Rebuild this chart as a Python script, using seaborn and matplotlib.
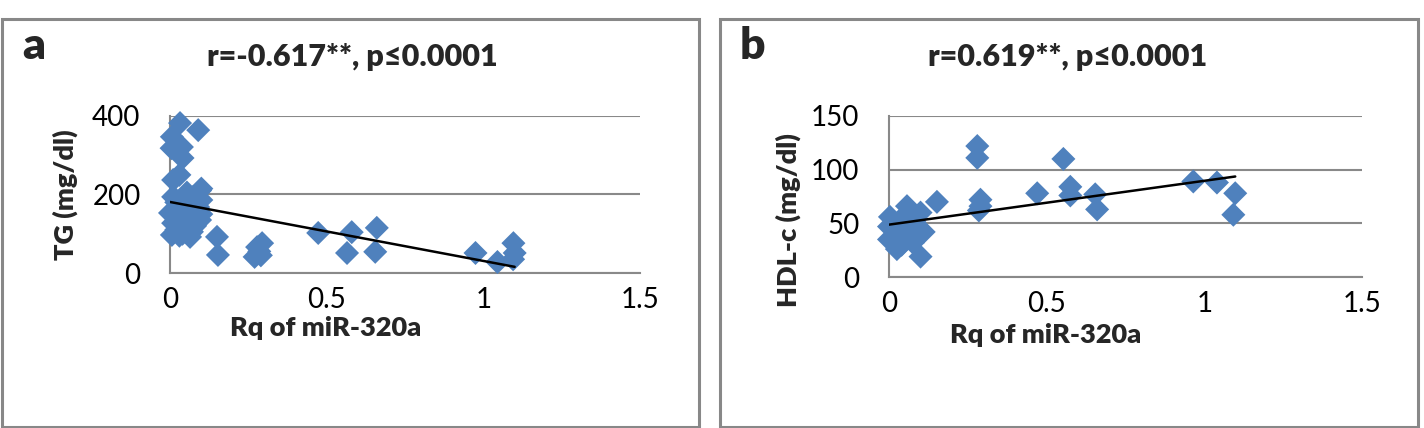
import numpy as np
import pandas as pd
import matplotlib
matplotlib.use('Agg')
import matplotlib.pyplot as plt
import seaborn as sns
from matplotlib.patches import Rectangle

# panel a: TG against Rq of miR-320a
rq_a = [0.032, 0.09, 0.006, 0.005, 0.038, 0.04, 0.01, 0.03, 0.096, 0.054,
        0.01, 0.074, 0.10, 0.0, 0.03, 0.09, 0.01, 0.054, 0.096, 0.006,
        0.064, 0.15, 0.153, 0.07, 0.08, 0.02, 0.045, 0.10,
        0.02, 0.05, 0.08, 0.03, 0.10, 0.06, 0.04, 0.07,
        0.278, 0.27, 0.294, 0.29, 0.285,
        0.473, 0.58, 0.565, 0.66, 0.655, 0.975, 1.045, 1.096, 1.10, 1.095]
tg = [382, 364, 347, 318, 321, 293, 237, 250, 210, 205,
      194, 194, 186, 153, 160, 168, 127, 127, 135, 97,
      92, 92, 46, 105, 150, 180, 175, 215,
      110, 140, 120, 95, 150, 160, 100, 130,
      66, 41, 76, 45, 55,
      102, 104, 51, 115, 54, 51, 28, 76, 51, 35]

# panel b: HDL-c against Rq of miR-320a
rq_b = [0.28, 0.28, 0.29, 0.29, 0.285, 0.152, 0.057, 0.003, 0.045, 0.10,
        0.0, 0.035, 0.09, 0.0, 0.025, 0.076, 0.10, 0.11, 0.02, 0.06,
        0.08, 0.04, 0.05, 0.02,
        0.47, 0.553, 0.575, 0.575, 0.654, 0.66, 0.965, 1.04, 1.098, 1.092]
hdl = [122, 111, 72, 66, 62, 70, 66, 56, 56, 60,
       47, 44, 47, 35, 26, 32, 19, 42, 38, 40,
       52, 30, 35, 45,
       78, 110, 84, 76, 77, 63, 89, 88, 78, 58]

x_ticks = [0, 0.5, 1, 1.5]
x_ticklabels = ['0', '0.5', '1', '1.5']
tg_ticks = [0, 200, 400]
hdl_ticks = [0, 50, 100, 150]

titles = ['r=-0.617**, p\u22640.0001', 'r=0.619**, p\u22640.0001']
letters = ['a', 'b']

sns.set_theme(style='white')
plt.rcParams['font.family'] = ['Lato', 'DejaVu Sans']

blue = '#4F81BD'
gray = '#898989'
W, H = 1424, 428

fig = plt.figure(figsize=(14.24, 4.28), dpi=100)


def px_box(l, t, r, b):
    return [l / W, 1 - b / H, (r - l) / W, (b - t) / H]


def draw_panel(box, x, y, yticks, ylabel, xlab_pos, ylab_pos):
    ax = fig.add_axes(box)
    df = pd.DataFrame({'x': x, 'y': y})
    sns.scatterplot(data=df, x='x', y='y', ax=ax, marker='D', s=150,
                    color=blue, edgecolor='none', linewidth=0,
                    clip_on=False, zorder=3)
    sns.regplot(data=df, x='x', y='y', ax=ax, scatter=False, ci=None,
                truncate=True, line_kws=dict(color='black', lw=1.8, zorder=4))
    ax.set_xlim(0, 1.5)
    ax.set_ylim(yticks[0], yticks[-1])
    ax.set_xticks(x_ticks)
    ax.set_xticklabels(x_ticklabels)
    ax.set_yticks(yticks)
    ax.yaxis.grid(True, color=gray, lw=1.5)
    ax.set_axisbelow(True)
    for s in ['top', 'right']:
        ax.spines[s].set_visible(False)
    for s in ['left', 'bottom']:
        ax.spines[s].set_color(gray)
        ax.spines[s].set_linewidth(1.5)
    ax.tick_params(axis='both', direction='out', length=7.2, width=1.5,
                   color=gray, labelsize=20, labelcolor='black')
    ax.tick_params(axis='y', pad=14)
    ax.tick_params(axis='x', pad=3)
    ax.set_xlabel('Rq of miR-320a', fontsize=19.5, fontweight='heavy', va='center')
    ax.set_ylabel(ylabel, fontsize=19.5, fontweight='heavy', va='center')
    ax.xaxis.set_label_coords(*xlab_pos)
    ax.yaxis.set_label_coords(*ylab_pos)
    return ax


draw_panel(px_box(170, 116, 640, 273), rq_a, tg, tg_ticks, 'TG (mg/dl)',
           (0.332, -0.35), (-0.222, 0.497))
draw_panel(px_box(889, 116, 1362, 277), rq_b, hdl, hdl_ticks, 'HDL-c (mg/dl)',
           (0.332, -0.36), (-0.212, 0.354))

# panel frames
for l, r in [(2, 699), (720, 1418)]:
    fig.add_artist(Rectangle((l / W, 1 / H), (r - l) / W, 408 / H,
                             transform=fig.transFigure, fill=False,
                             ec='#888888', lw=2.2))

for cx, lx, t, let in zip([352, 1068], [22, 740], titles, letters):
    fig.text(cx / W, 1 - 57 / H, t, ha='center', va='center',
             fontsize=22, fontweight='heavy')
    fig.text(lx / W, 1 - 46 / H, let, ha='left', va='center',
             fontsize=32, fontweight='heavy')

fig.savefig('out.png', dpi=100)
